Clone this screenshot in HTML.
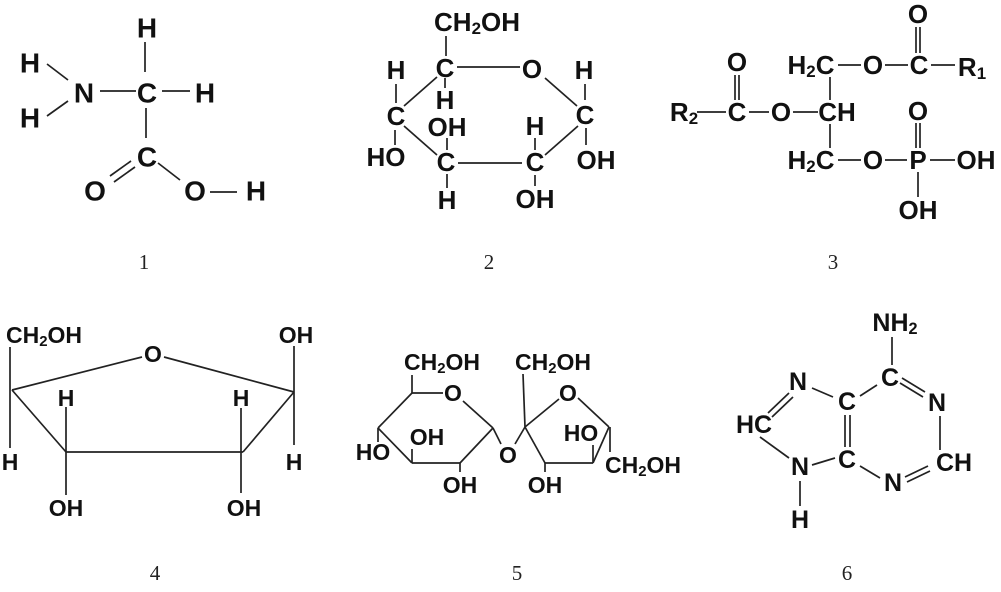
<!DOCTYPE html>
<html><head><meta charset="utf-8"><style>
html,body{margin:0;padding:0;background:#fff;}
svg{display:block}
.a{font-family:"Liberation Sans",sans-serif;font-weight:bold;font-size:22px;fill:#111;text-anchor:middle;dominant-baseline:central}
.s{font-size:0.65em}
.g1 .a{font-size:28px}
.g2 .a{font-size:26px}
.g3 .a{font-size:26px}
.g4 .a{font-size:23px}
.g5 .a{font-size:23px}
.g6 .a{font-size:25px}
.n{font-family:"Liberation Serif",serif;font-size:21px;fill:#222;text-anchor:middle;dominant-baseline:central}
line,polyline{stroke:#222;stroke-width:1.7;fill:none}
</style></head><body>
<svg width="1001" height="592" viewBox="0 0 1001 592">
<g class="g1">
<text class="a" x="147" y="28">H</text>
<text class="a" x="30" y="63">H</text>
<text class="a" x="84" y="93">N</text>
<text class="a" x="147" y="93">C</text>
<text class="a" x="205" y="93">H</text>
<text class="a" x="30" y="118">H</text>
<text class="a" x="147" y="157">C</text>
<text class="a" x="95" y="191">O</text>
<text class="a" x="195" y="191">O</text>
<text class="a" x="256" y="191">H</text>
<line x1="145" y1="42" x2="145" y2="72"/>
<line x1="100" y1="91" x2="136" y2="91"/>
<line x1="162" y1="91" x2="190" y2="91"/>
<line x1="47" y1="64" x2="68" y2="80"/>
<line x1="47" y1="116" x2="68" y2="101"/>
<line x1="146" y1="108" x2="146" y2="138"/>
<line x1="131" y1="161" x2="110" y2="176"/>
<line x1="135" y1="167" x2="114" y2="182"/>
<line x1="158" y1="163" x2="180" y2="180"/>
<line x1="210" y1="192" x2="237" y2="192"/>
</g>
<text class="n" x="144" y="262">1</text>
<g class="g2">
<text class="a" x="477" y="22">CH<tspan class="s" dy="6">2</tspan><tspan dy="-6">OH</tspan></text>
<text class="a" x="445" y="68">C</text>
<text class="a" x="532" y="69">O</text>
<text class="a" x="584" y="70">H</text>
<text class="a" x="585" y="115">C</text>
<text class="a" x="596" y="160">OH</text>
<text class="a" x="535" y="162">C</text>
<text class="a" x="535" y="126">H</text>
<text class="a" x="535" y="199">OH</text>
<text class="a" x="446" y="162">C</text>
<text class="a" x="447" y="127">OH</text>
<text class="a" x="447" y="200">H</text>
<text class="a" x="396" y="116">C</text>
<text class="a" x="396" y="70">H</text>
<text class="a" x="386" y="157">HO</text>
<text class="a" x="445" y="100">H</text>
</g>
<line x1="446" y1="36" x2="446" y2="56"/>
<line x1="457" y1="67" x2="520" y2="67"/>
<line x1="545" y1="78" x2="577" y2="106"/>
<line x1="585" y1="84" x2="585" y2="100"/>
<line x1="586" y1="128" x2="586" y2="145"/>
<line x1="578" y1="126" x2="545" y2="155"/>
<line x1="458" y1="163" x2="522" y2="163"/>
<line x1="437" y1="155" x2="404" y2="126"/>
<line x1="404" y1="106" x2="437" y2="77"/>
<line x1="396" y1="84" x2="396" y2="103"/>
<line x1="395" y1="130" x2="395" y2="145"/>
<line x1="447" y1="138" x2="447" y2="150"/>
<line x1="447" y1="174" x2="447" y2="188"/>
<line x1="535" y1="138" x2="535" y2="150"/>
<line x1="535" y1="175" x2="535" y2="186"/>
<line x1="445" y1="78" x2="445" y2="88"/>
<text class="n" x="489" y="262">2</text>
<g class="g3">
<text class="a" x="918" y="14">O</text>
<text class="a" x="919" y="65">C</text>
<text class="a" x="972" y="67">R<tspan class="s" dy="6">1</tspan></text>
<text class="a" x="811" y="65">H<tspan class="s" dy="6">2</tspan><tspan dy="-6">C</tspan></text>
<text class="a" x="873" y="65">O</text>
<text class="a" x="837" y="112">CH</text>
<text class="a" x="781" y="112">O</text>
<text class="a" x="737" y="112">C</text>
<text class="a" x="737" y="62">O</text>
<text class="a" x="684" y="112">R<tspan class="s" dy="6">2</tspan></text>
<text class="a" x="811" y="160">H<tspan class="s" dy="6">2</tspan><tspan dy="-6">C</tspan></text>
<text class="a" x="873" y="160">O</text>
<text class="a" x="918" y="160">P</text>
<text class="a" x="976" y="160">OH</text>
<text class="a" x="918" y="111">O</text>
<text class="a" x="918" y="210">OH</text>
</g>
<line x1="916" y1="27" x2="916" y2="53"/><line x1="920" y1="27" x2="920" y2="53"/>
<line x1="931" y1="65" x2="955" y2="65"/>
<line x1="838" y1="65" x2="861" y2="65"/>
<line x1="885" y1="65" x2="908" y2="65"/>
<line x1="830" y1="77" x2="830" y2="100"/>
<line x1="830" y1="124" x2="830" y2="148"/>
<line x1="793" y1="112" x2="818" y2="112"/>
<line x1="749" y1="112" x2="769" y2="112"/>
<line x1="697" y1="112" x2="726" y2="112"/>
<line x1="735" y1="75" x2="735" y2="100"/><line x1="739" y1="75" x2="739" y2="100"/>
<line x1="838" y1="160" x2="861" y2="160"/>
<line x1="885" y1="160" x2="907" y2="160"/>
<line x1="930" y1="160" x2="955" y2="160"/>
<line x1="916" y1="123" x2="916" y2="148"/><line x1="920" y1="123" x2="920" y2="148"/>
<line x1="918" y1="172" x2="918" y2="197"/>
<text class="n" x="833" y="262">3</text>
<g class="g4">
<text class="a" x="44" y="335">CH<tspan class="s" dy="6">2</tspan><tspan dy="-6">OH</tspan></text>
<text class="a" x="153" y="354">O</text>
<text class="a" x="296" y="335">OH</text>
<text class="a" x="66" y="398">H</text>
<text class="a" x="241" y="398">H</text>
<text class="a" x="10" y="462">H</text>
<text class="a" x="294" y="462">H</text>
<text class="a" x="66" y="508">OH</text>
<text class="a" x="244" y="508">OH</text>
</g>
<line x1="10" y1="347" x2="10" y2="448"/>
<line x1="12" y1="390" x2="142" y2="357"/>
<line x1="164" y1="357" x2="294" y2="392"/>
<line x1="12" y1="390" x2="66" y2="452"/>
<line x1="66" y1="452" x2="243" y2="452"/>
<line x1="243" y1="452" x2="294" y2="392"/>
<line x1="66" y1="407" x2="66" y2="495"/>
<line x1="241" y1="408" x2="241" y2="493"/>
<line x1="294" y1="346" x2="294" y2="445"/>
<text class="n" x="155" y="573">4</text>
<g class="g5">
<text class="a" x="442" y="362">CH<tspan class="s" dy="6">2</tspan><tspan dy="-6">OH</tspan></text>
<text class="a" x="453" y="393">O</text>
<text class="a" x="553" y="362">CH<tspan class="s" dy="6">2</tspan><tspan dy="-6">OH</tspan></text>
<text class="a" x="568" y="393">O</text>
<text class="a" x="373" y="452">HO</text>
<text class="a" x="427" y="437">OH</text>
<text class="a" x="508" y="455">O</text>
<text class="a" x="460" y="485">OH</text>
<text class="a" x="581" y="433">HO</text>
<text class="a" x="643" y="465">CH<tspan class="s" dy="6">2</tspan><tspan dy="-6">OH</tspan></text>
<text class="a" x="545" y="485">OH</text>
</g>
<line x1="412" y1="393" x2="443" y2="393"/>
<line x1="463" y1="401" x2="493" y2="428"/>
<line x1="493" y1="428" x2="460" y2="463"/>
<line x1="460" y1="463" x2="412" y2="463"/>
<line x1="412" y1="463" x2="378" y2="428"/>
<line x1="378" y1="428" x2="412" y2="393"/>
<line x1="412" y1="375" x2="412" y2="393"/>
<line x1="412" y1="449" x2="412" y2="463"/>
<line x1="378" y1="428" x2="378" y2="442"/>
<line x1="460" y1="463" x2="460" y2="472"/>
<line x1="493" y1="428" x2="501" y2="444"/>
<line x1="515" y1="444" x2="525" y2="427"/>
<line x1="525" y1="427" x2="559" y2="399"/>
<line x1="578" y1="398" x2="609" y2="427"/>
<line x1="609" y1="427" x2="593" y2="463"/>
<line x1="593" y1="463" x2="545" y2="463"/>
<line x1="545" y1="463" x2="525" y2="427"/>
<line x1="523" y1="374" x2="525" y2="427"/>
<line x1="545" y1="463" x2="545" y2="472"/>
<line x1="593" y1="445" x2="593" y2="463"/>
<line x1="610" y1="427" x2="610" y2="452"/>
<text class="n" x="517" y="573">5</text>
<g class="g6">
<text class="a" x="895" y="323">NH<tspan class="s" dy="6">2</tspan></text>
<text class="a" x="890" y="378">C</text>
<text class="a" x="937" y="403">N</text>
<text class="a" x="798" y="382">N</text>
<text class="a" x="847" y="402">C</text>
<text class="a" x="754" y="425">HC</text>
<text class="a" x="800" y="467">N</text>
<text class="a" x="847" y="460">C</text>
<text class="a" x="893" y="483">N</text>
<text class="a" x="954" y="463">CH</text>
<text class="a" x="800" y="520">H</text>
</g>
<line x1="892" y1="337" x2="892" y2="365"/>
<line x1="877" y1="385" x2="860" y2="396"/>
<line x1="902" y1="378" x2="925" y2="392"/><line x1="900" y1="383" x2="923" y2="397"/>
<line x1="940" y1="416" x2="940" y2="450"/>
<line x1="928" y1="466" x2="905" y2="477"/><line x1="930" y1="471" x2="907" y2="482"/>
<line x1="880" y1="478" x2="860" y2="466"/>
<line x1="845" y1="415" x2="845" y2="447"/><line x1="850" y1="415" x2="850" y2="447"/>
<line x1="833" y1="397" x2="812" y2="388"/>
<line x1="789" y1="393" x2="768" y2="413"/><line x1="793" y1="397" x2="772" y2="417"/>
<line x1="760" y1="437" x2="789" y2="458"/>
<line x1="812" y1="465" x2="835" y2="458"/>
<line x1="800" y1="481" x2="800" y2="506"/>
<text class="n" x="847" y="573">6</text>
</svg>
</body></html>
